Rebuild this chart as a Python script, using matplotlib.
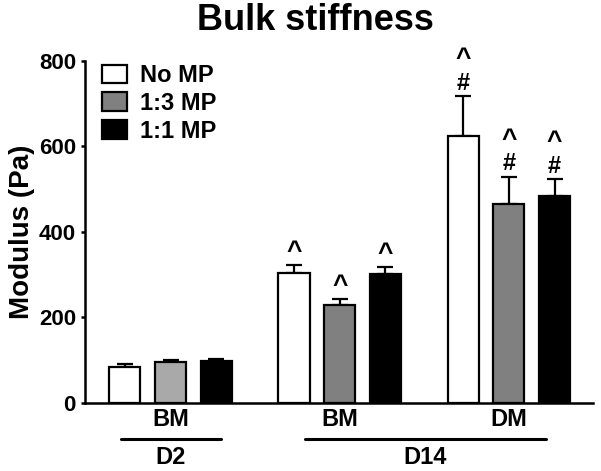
import matplotlib
matplotlib.use("Agg")
import matplotlib.pyplot as plt
from matplotlib.transforms import blended_transform_factory
from matplotlib.patches import Patch

plt.rcParams['font.family'] = ['Liberation Sans', 'DejaVu Sans']
plt.rcParams['font.weight'] = 'bold'

# ---- data ----
conditions = ["D2 BM", "D14 BM", "D14 DM"]
media_labels = ["BM", "BM", "DM"]
day_labels = ["D2", "D14"]
series_names = ["No MP", "1:3 MP", "1:1 MP"]
no_mp = [84, 303, 624]
no_mp_err = [7, 19, 93]
mp13 = [96, 229, 465]
mp13_err = [5, 14, 64]
mp11 = [97, 302, 484]
mp11_err = [5, 16, 39]
# significance marks per condition (same for each series)
marks = ["", "^", "^\n#"]
yticks = [0, 200, 400, 600, 800]

values = [no_mp, mp13, mp11]
errors = [no_mp_err, mp13_err, mp11_err]
# face colours: D2 1:3 bar is a lighter grey than the D14 ones
face_colors = [["white"] * 3, ["#a9a9a9", "#808080", "#808080"], ["black"] * 3]
legend_colors = ["white", "#808080", "black"]

fig = plt.figure(figsize=(6.01, 4.71), dpi=100)
ax = fig.add_axes([85 / 601, 1 - 403 / 471, (593 - 85) / 601, (403 - 60.7) / 471])

group_step = 3.7
bar_w = 0.68
for gi in range(len(conditions)):
    for si in range(len(series_names)):
        x = gi * group_step + si
        ax.bar(x, values[si][gi], width=bar_w, color=face_colors[si][gi],
               edgecolor="black", linewidth=1.6, zorder=2)
        ax.errorbar(x, values[si][gi], yerr=[[0], [errors[si][gi]]], fmt="none",
                    ecolor="black", elinewidth=1.6, capsize=6, capthick=1.6, zorder=1)
        if marks[gi]:
            top = values[si][gi] + errors[si][gi]
            lines = marks[gi].split("\n")
            for li, m in enumerate(reversed(lines)):
                ax.annotate(m, xy=(x, top), xytext=(0, 9.5 + li * 17),
                            textcoords="offset points", ha="center", va="center",
                            fontsize=17 if m == "#" else 19, fontweight="bold")

ax.set_xlim(-0.87, 2 * group_step + 2 + 0.84)
ax.set_ylim(0, 800)
ax.set_yticks(yticks)
ax.tick_params(axis="y", labelsize=16, width=1.8, length=3, pad=3.5, direction="out")
for lab in ax.get_yticklabels():
    lab.set_fontweight("bold")
ax.set_xticks([])
for s in ["top", "right"]:
    ax.spines[s].set_visible(False)
ax.spines["left"].set_linewidth(1.8)
ax.spines["bottom"].set_linewidth(1.8)
ax.set_ylabel("Modulus (Pa)", fontsize=20, fontweight="bold", labelpad=3)
fig.text(315 / 601, 1 - 21 / 471, "Bulk stiffness", ha="center", va="center",
         fontsize=26, fontweight="bold")

# group labels below axis
trans = blended_transform_factory(ax.transData, ax.transAxes)
for gi, lab in enumerate(media_labels):
    ax.text(gi * group_step + 1, -0.048, lab, transform=trans, ha="center",
            va="center", fontsize=17, fontweight="bold")
# day underlines
day_spans = [(-0.09, 2.11), (group_step + 0.24, 2 * group_step + 1.81)]
for (x0, x1), lab in zip(day_spans, day_labels):
    ax.plot([x0, x1], [-0.106, -0.106], transform=trans, color="black",
            linewidth=2.2, clip_on=False, solid_capstyle="round")
    ax.text((x0 + x1) / 2, -0.158, lab, transform=trans, ha="center",
            va="center", fontsize=17, fontweight="bold")

# legend
handles = [Patch(facecolor=c, edgecolor="black", linewidth=1.6) for c in legend_colors]
leg = ax.legend(handles, series_names, loc="upper left", bbox_to_anchor=(0.033, 0.99),
                frameon=False, handlelength=1.06, handleheight=0.85,
                handletextpad=0.55, labelspacing=0.2, borderaxespad=0.0,
                borderpad=0.0, prop={"weight": "bold", "size": 17})

fig.savefig("out.png", dpi=100)
